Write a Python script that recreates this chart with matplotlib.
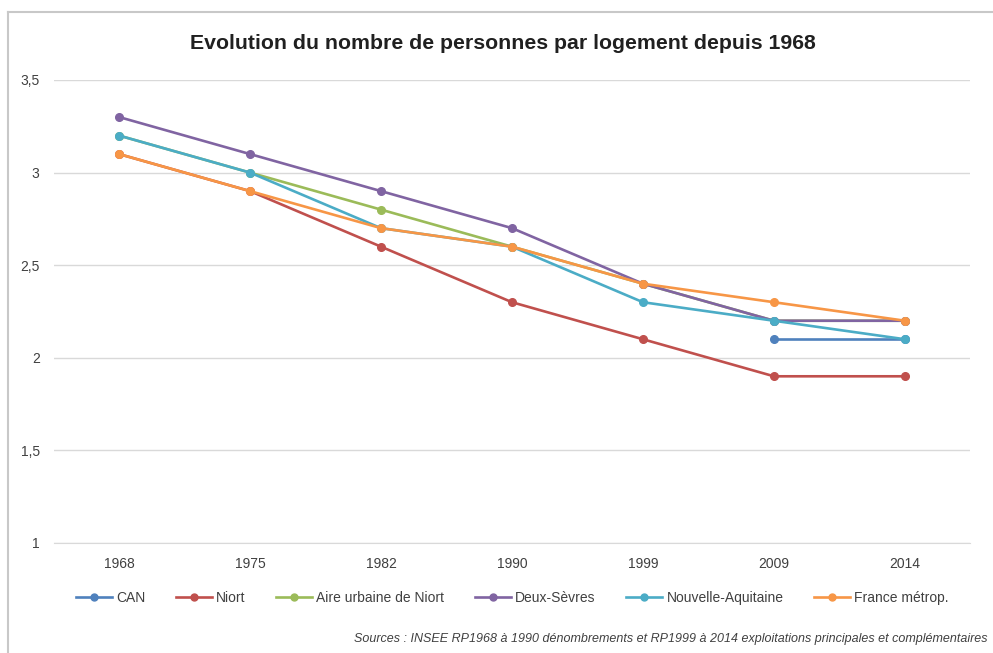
import numpy as np
import matplotlib
matplotlib.use("Agg")
import matplotlib.pyplot as plt
from matplotlib.lines import Line2D

plt.rcParams['font.family'] = ['Liberation Sans Narrow', 'Liberation Sans', 'DejaVu Sans']

## donnees
annees = ['1968', '1975', '1982', '1990', '1999', '2009', '2014']
nan = np.nan
can = [nan, nan, nan, nan, nan, 2.1, 2.1]
niort = [3.1, 2.9, 2.6, 2.3, 2.1, 1.9, 1.9]
aire_urbaine = [3.2, 3.0, 2.8, 2.6, 2.4, 2.2, 2.2]
deux_sevres = [3.3, 3.1, 2.9, 2.7, 2.4, 2.2, 2.2]
nouvelle_aquitaine = [3.2, 3.0, 2.7, 2.6, 2.3, 2.2, 2.1]
france = [3.1, 2.9, 2.7, 2.6, 2.4, 2.3, 2.2]

noms = ['CAN', 'Niort', 'Aire urbaine de Niort', 'Deux-Sèvres',
        'Nouvelle-Aquitaine', 'France métrop.']
series = [can, niort, aire_urbaine, deux_sevres, nouvelle_aquitaine, france]
couleurs = ['#4F81BD', '#C0504D', '#9BBB59', '#8064A2', '#4BACC6', '#F79646']

## figure
fig = plt.figure(figsize=(9.93, 6.53), dpi=100)
ax = fig.add_axes([0.0539, 0.1685, 0.9234, 0.709])

x = np.arange(len(annees))
for s, c, n in zip(series, couleurs, noms):
    ax.plot(x, s, color=c, lw=1.9, marker='o', ms=5.5, label=n)

ax.set_xlim(-0.5, len(annees) - 0.5)
ax.set_ylim(1, 3.5)
ax.set_yticks([1, 1.5, 2, 2.5, 3, 3.5])
ax.set_yticklabels(['1', '1,5', '2', '2,5', '3', '3,5'])
ax.set_xticks(x)
ax.set_xticklabels(annees)
ax.tick_params(length=0, labelsize=10, colors='#404040', pad=10)
ax.tick_params(axis='y', pad=10)
ax.grid(axis='y', color='#D9D9D9', lw=1)
ax.set_axisbelow(True)
for sp in ['top', 'right', 'left']:
    ax.spines[sp].set_visible(False)
ax.spines['bottom'].set_color('#D9D9D9')

fig.text(0.5065, 0.934, 'Evolution du nombre de personnes par logement depuis 1968',
         ha='center', va='center', fontsize=15.3, fontweight='bold', color='#202020')

handles = [Line2D([], [], color=c, lw=1.9, marker='o', ms=5) for c in couleurs]
fig.legend(handles, noms, loc='center', bbox_to_anchor=(0.516, 0.084), ncol=6,
           frameon=False, fontsize=10, handlelength=2.6, handletextpad=0.3,
           columnspacing=2.2, labelcolor='#404040')

fig.text(0.994, 0.012, 'Sources : INSEE RP1968 à 1990 dénombrements et RP1999 à 2014 '
         'exploitations principales et complémentaires',
         ha='right', va='bottom', fontsize=9, style='italic', color='#404040')

# cadre
fig.add_artist(Line2D([0.008, 0.008], [0, 0.981], color='#C8C8C8', lw=1.5))
fig.add_artist(Line2D([0.008, 1], [0.981, 0.981], color='#C8C8C8', lw=1.5))

fig.savefig('out.png', dpi=100)
